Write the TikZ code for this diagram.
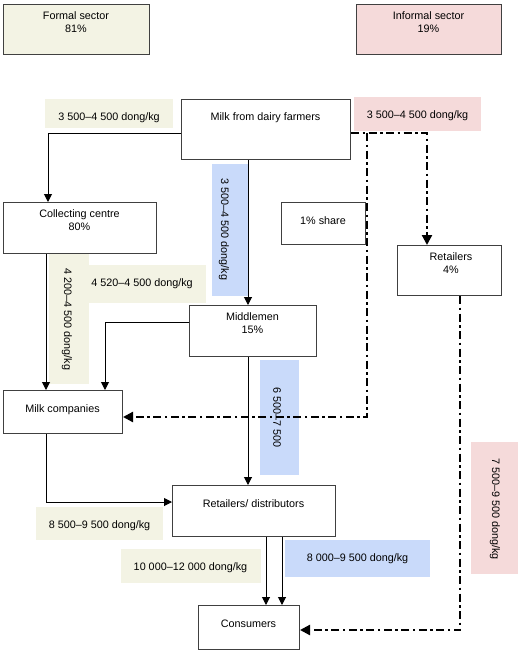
\documentclass[tikz,border=0pt]{standalone}
\usepackage{fontspec}
\setmainfont{Liberation Sans}
\usetikzlibrary{arrows.meta}
\definecolor{beige}{RGB}{243,243,228}
\definecolor{pinkc}{RGB}{245,218,218}
\definecolor{bluec}{RGB}{201,218,250}
\definecolor{edge}{RGB}{64,64,64}
\begin{document}
\begin{tikzpicture}[x=1pt,y=-1pt,
  box/.style={draw=edge, line width=1pt, inner sep=0pt, anchor=north west},
  txt/.style={inner sep=0pt, align=center, font=\fontsize{10.8}{13}\selectfont},
  arr/.style={line width=1pt, -{Triangle[length=8pt,width=8pt]}},
  dd/.style={line width=2.2pt, dash pattern=on 8pt off 3.5pt on 2.5pt off 3.5pt, -{Triangle[length=10pt,width=10pt]}}]
\useasboundingbox (0,0) rectangle (532,654);

% price label backgrounds
\fill[beige] (45,99) rectangle (173,128);
\fill[pinkc] (354,97) rectangle (481,131);
\fill[bluec] (212,164) rectangle (248,296);
\fill[beige] (49,253) rectangle (89,384);
\fill[beige] (89,265) rectangle (206,303);
\fill[bluec] (260,360) rectangle (299,475);
\fill[beige] (36,507) rectangle (163,540);
\fill[beige] (121,549) rectangle (261,583);
\fill[bluec] (285,540) rectangle (430,577);
\fill[pinkc] (471,442) rectangle (518,574);

% boxes
\node[box, fill=beige, minimum width=146pt, minimum height=50pt] (formal) at (3,4) {};
\node[box, fill=pinkc, minimum width=145pt, minimum height=50pt] (informal) at (356,4) {};
\node[box, minimum width=169pt, minimum height=60pt] (milk) at (181,99) {};
\node[box, minimum width=153pt, minimum height=51pt] (collect) at (3,202) {};
\node[box, minimum width=84pt, minimum height=42pt] (share) at (281,202) {};
\node[box, minimum width=104pt, minimum height=50pt] (retail) at (397,245) {};
\node[box, minimum width=127pt, minimum height=51pt] (middle) at (189,305) {};
\node[box, minimum width=119pt, minimum height=43pt] (company) at (3,390) {};
\node[box, minimum width=163pt, minimum height=51pt] (retdist) at (172,485) {};
\node[box, minimum width=101pt, minimum height=44pt] (consumers) at (198,605) {};

% texts
\node[txt] (formalt) at (76,22.5) {Formal sector\\81\%};
\node[txt] (informalt) at (428.5,22.5) {Informal sector\\19\%};
\node[txt] (p1t) at (109,117.5) {3 500–4 500 dong/kg};
\node[txt] (milkt) at (265.5,118) {Milk from dairy farmers};
\node[txt] (p2t) at (417.5,116) {3 500–4 500 dong/kg};
\node[txt, rotate=-90] (p3t) at (224,229.5) {3 500–4 500 dong/kg};
\node[txt] (collectt) at (79.5,220.5) {Collecting centre\\80\%};
\node[txt] (sharet) at (323,221) {1\% share};
\node[txt] (retailt) at (451,263) {Retailers\\4\%};
\node[txt, rotate=-90] (p4t) at (67,319.5) {4 200–4 500 dong/kg};
\node[txt] (p5t) at (142,284) {4 520–4 500 dong/kg};
\node[txt] (middlet) at (252.5,323.5) {Middlemen\\15\%};
\node[txt, rotate=-90] (p6t) at (277,417.5) {6 500–7 500};
\node[txt] (companyt) at (62.5,410) {Milk companies};
\node[txt] (retdistt) at (253.5,504) {Retailers/ distributors};
\node[txt] (p7t) at (99.5,526) {8 500–9 500 dong/kg};
\node[txt] (p8t) at (190.5,568) {10 000–12 000 dong/kg};
\node[txt] (p9t) at (357.5,559) {8 000–9 500 dong/kg};
\node[txt, rotate=-90] (p10t) at (495,509) {7 500–9 500 dong/kg};
\node[txt] (consumerst) at (248.5,624) {Consumers};

% helper coordinates
\coordinate (ml) at (48,133);
\coordinate (mr) at (427,133);
\coordinate (split) at (367,133);
\coordinate (xa) at (248,0);
\coordinate (xb) at (46,0);
\coordinate (mid) at (105,322);
\coordinate (cd) at (46,502);
\coordinate (ia) at (367,417);
\coordinate (ra) at (266,0);
\coordinate (rb) at (282,0);
\coordinate (rd) at (460,630);

% solid connectors
\draw[arr] (milk.west |- ml) -| (collect.north -| ml);
\draw[arr] (milk.south -| xa) -- (middle.north -| xa);
\draw[arr] (collect.south -| xb) -- (company.north -| xb);
\draw[arr] (middle.west |- mid) -| (company.north -| mid);
\draw[arr] (middle.south -| xa) -- (retdist.north -| xa);
\draw[arr] (company.south -| cd) |- (retdist.west |- cd);
\draw[arr] (retdist.south -| ra) -- (consumers.north -| ra);
\draw[arr] (retdist.south -| rb) -- (consumers.north -| rb);

% dash-dot connectors
\draw[dd] (milk.east |- mr) -| (retail.north -| mr);
\draw[dd] (split) |- (company.east |- ia);
\draw[dd] (retail.south -| rd) |- (consumers.east |- rd);
\end{tikzpicture}
\end{document}
